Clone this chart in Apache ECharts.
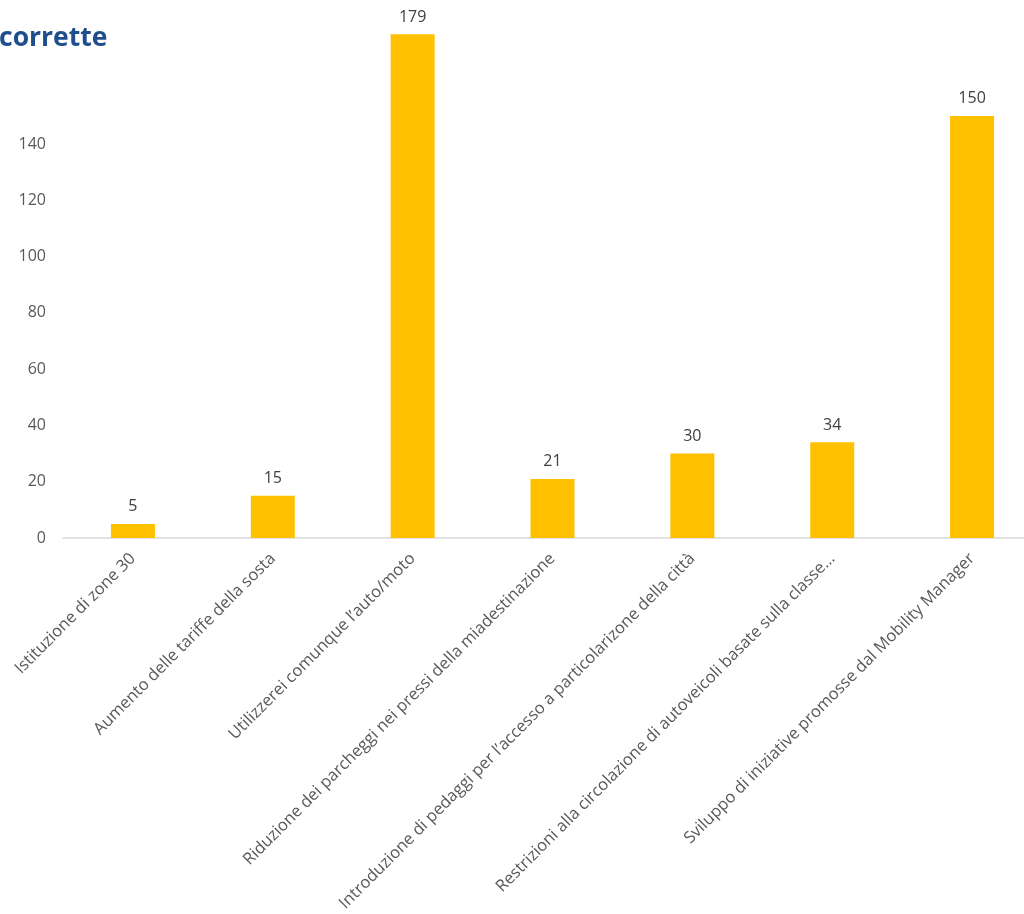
<!DOCTYPE html>
<html>
<head>
<meta charset="utf-8">
<script src="https://cdn.jsdelivr.net/npm/echarts@6/dist/echarts.min.js"></script>
<style>html,body{margin:0;padding:0;background:#fff}#c{width:1024px;height:914px}</style>
</head>
<body>
<div id="c"></div>
<script>
const categories = [
  "Istituzione di zone 30",
  "Aumento delle tariffe della sosta",
  "Utilizzerei comunque l\u2019auto/moto",
  "Riduzione dei parcheggi nei pressi della miadestinazione",
  "Introduzione di pedaggi per l\u2019accesso a particolarizone della citt\u00e0",
  "Restrizioni alla circolazione di autoveicoli basate sulla classe...",
  "Sviluppo di iniziative promosse dal Mobility Manager"
];
const values = [5, 15, 179, 21, 30, 34, 150];
const yTicks = [0, 20, 40, 60, 80, 100, 120, 140];
const titleText = "corrette";

const chart = echarts.init(document.getElementById('c'));
chart.setOption({
  animation: false,
  title: {
    text: titleText, left: -6, top: 20,
    textStyle: { color: '#1F4E8C', fontSize: 26.5, fontWeight: 'bold', fontFamily: 'Open Sans' }
  },
  grid: { left: 63, width: 979, top: 31.5, bottom: 376, containLabel: false, outerBoundsMode: 'none' },
  xAxis: {
    type: 'category', data: categories,
    axisLine: { lineStyle: { color: '#d9d9d9', width: 1.5 } },
    axisTick: { show: false },
    axisLabel: {
      interval: 0, rotate: 45, margin: 18, color: '#595959',
      fontSize: 16.5, fontFamily: 'Open Sans'
    }
  },
  yAxis: {
    type: 'value', min: 0, max: 180, interval: 20,
    splitLine: { show: false },
    axisLine: { show: false }, axisTick: { show: false },
    axisLabel: {
      color: '#595959', fontSize: 16, fontFamily: 'Open Sans', margin: 17,
      formatter: v => yTicks.indexOf(v) >= 0 ? String(v) : ''
    }
  },
  series: [{
    type: 'bar', data: values, barWidth: 44,
    itemStyle: { color: '#FFC000' },
    label: { show: true, position: 'top', distance: 9, color: '#404040', fontSize: 16, fontFamily: 'Open Sans' }
  }]
});
</script>
</body>
</html>
